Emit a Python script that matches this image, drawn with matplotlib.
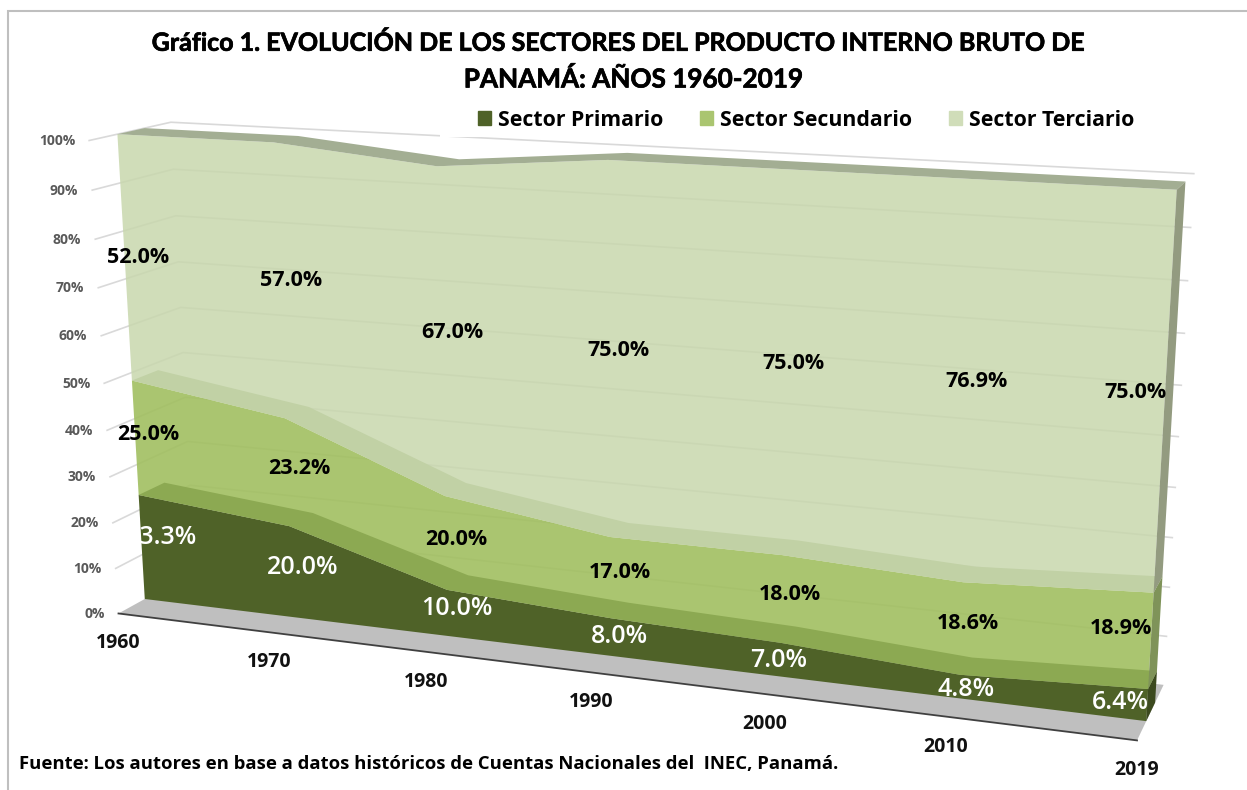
import numpy as np
import matplotlib
matplotlib.use('Agg')
import matplotlib.pyplot as plt
import matplotlib.patheffects as pe
from matplotlib.patches import Patch, Rectangle

# Datos
anios = ['1960', '1970', '1980', '1990', '2000', '2010', '2019']
primario = [23.3, 20.0, 10.0, 8.0, 7.0, 4.8, 6.4]
secundario = [25.0, 23.2, 20.0, 17.0, 18.0, 18.6, 18.9]
terciario = [52.0, 57.0, 67.0, 75.0, 75.0, 76.9, 75.0]
ticks_y = [0, 10, 20, 30, 40, 50, 60, 70, 80, 90, 100]
nombres = ['Sector Primario', 'Sector Secundario', 'Sector Terciario']

FUENTE = 'Open Sans'
plt.rcParams['font.family'] = [FUENTE, 'DejaVu Sans']

# =========================================================================
# CAMARA: esquinas de la caja 3D (t, %, profundidad) -> pixel de la figura
# =========================================================================
esquinas = [
    (0, 0, -1, 118, 612), (1, 0, -1, 1138, 740), (0, 100, -1, 91, 141),
    (0, 0, 0, 142, 599), (1, 0, 0, 1146, 722), (0, 100, 0, 116, 134), (1, 100, 0, 1176, 191),
    (0, 0, 1, 173, 586), (1, 0, 1, 1155, 703), (0, 100, 1, 145, 128), (1, 100, 1, 1186, 181),
    (0, 0, 2, 195, 572), (1, 0, 2, 1163, 684), (0, 100, 2, 170, 122), (1, 100, 2, 1194, 173),
]
A, b = [], []
for t, v, d, u, w in esquinas:
    v = v / 100
    A.append([t, v, d, 1, 0, 0, 0, 0, -u * t, -u * v, -u * d])
    A.append([0, 0, 0, 0, t, v, d, 1, -w * t, -w * v, -w * d])
    b += [u, w]
P = np.append(np.linalg.lstsq(np.array(A, float), np.array(b, float), rcond=None)[0], 1).reshape(3, 4)


def proy(i, v, d):
    # i = posicion de la categoria, v = porcentaje, d = profundidad
    i, v, d = np.broadcast_arrays(np.asarray(i, float), np.asarray(v, float), np.asarray(d, float))
    q = np.stack([i / (len(anios) - 1), v / 100, d, np.ones_like(i)])
    s = P @ q.reshape(4, -1)
    return s[0] / s[2], s[1] / s[2]


def cara(ax, xs1, ys1, xs2, ys2, color, alpha=1.0, zorder=2):
    ax.fill(np.r_[xs1, xs2[::-1]], np.r_[ys1, ys2[::-1]], color=color, alpha=alpha, lw=0, zorder=zorder)


fig = plt.figure(figsize=(12.47, 7.9), dpi=100)
ax = fig.add_axes([0, 0, 1, 1])
ax.set_xlim(0, 1247)
ax.set_ylim(790, 0)
ax.axis('off')

# Marco del grafico
ax.add_patch(Rectangle((8, 11), 1300, 900, fc='white', ec='#BFBFBF', lw=1.5, zorder=0))

idx = np.arange(len(anios))
extremos = np.array([0, len(anios) - 1])

# Piso gris y su borde
x1, y1 = proy(extremos, 0, -1)
x2, y2 = proy(extremos, 0, 2)
cara(ax, x1, y1, x2, y2, '#BFBFBF', zorder=1)
ax.plot(x1, y1, color='#404040', lw=1.3, zorder=1.1)

# Lineas de division en pared lateral y pared del fondo
for v in ticks_y[1:]:
    xa, ya = proy([0, 0], v, [-1, 2])
    xb, yb = proy(extremos, v, 2)
    ax.plot(np.r_[xa, xb[1]], np.r_[ya, yb[1]], color='#D9D9D9', lw=1.2, zorder=1.2)

# Etiquetas del eje de porcentajes
for v in ticks_y:
    x, y = proy(0, v, -1)
    ax.text(x[0] - 14, y[0] + 0.5, f'{v}%', ha='right', va='center', fontsize=10,
            fontweight='bold', color='#595959', zorder=6)

# Acumulados (las areas quedan recortadas al 100%)
tope1 = np.minimum(np.array(primario), 100)
tope2 = np.minimum(tope1 + np.array(secundario), 100)
tope3 = np.minimum(tope2 + np.array(terciario), 100)

# Caras frontales, de arriba hacia abajo
x_b, y_b = proy(idx, tope2, 0)
x_t, y_t = proy(idx, tope3, 0)
cara(ax, x_t, y_t, x_b, y_b, '#C8D7AD', alpha=0.85, zorder=2)

x_a, y_a = proy(idx, tope1, 0)
cara(ax, x_b, y_b, x_a, y_a, '#A1BF60', alpha=0.9, zorder=2.1)

x_0, y_0 = proy(idx, 0, 0)
cara(ax, x_a, y_a, x_0, y_0, '#4F6228', zorder=2.2)

# Caras superiores (la profundidad de cada area)
for tope, col in [(tope3, '#A3AE93'), (tope2, '#C1D1A5'), (tope1, '#8CA952')]:
    xf, yf = proy(idx, tope, 0)
    xd, yd = proy(idx, tope, 1)
    cara(ax, xf, yf, xd, yd, col, zorder=3)

# Cara lateral derecha
ult = len(anios) - 1
for inf, sup, col in [(0, tope1[-1], '#3C4A1F'), (tope1[-1], tope2[-1], '#7F9359'), (tope2[-1], tope3[-1], '#939B80')]:
    xf, yf = proy([ult, ult], [inf, sup], 0)
    xd, yd = proy([ult, ult], [inf, sup], 1)
    cara(ax, xf, yf, xd, yd, col, zorder=3.5)

# Etiquetas de datos, con un pequeño ajuste a ojo en pixeles
ajuste_x = [[7, 0, -1, 0, -10, 0, 0], [0] * 7, [0] * 7]
ajuste_y = [[-4, 2, 2, 6, 8, 11, 6], [1, 1, 2, 1, 2, 2, -5], [2, 2, 2, 2, 2, 2, 3]]
bases = [np.zeros(len(anios)), tope1, tope2]
series = [primario, secundario, terciario]
for s, (base, serie) in enumerate(zip(bases, series)):
    for i, val in enumerate(serie):
        x, y = proy(i, base[i] + val / 2, 0.5)
        px = x[0] + ajuste_x[s][i]
        py = y[0] + 1 + ajuste_y[s][i]
        txt = f'{val:.1f}%'
        color = 'white' if s == 0 else 'black'
        peso = 'semibold' if s == 0 else 'bold'
        tam = 18 if s == 0 else 15.5
        if i == ult:
            ax.text(px - 3, py, txt, ha='right', va='center', fontsize=tam, fontweight=peso, color=color, zorder=5)
        else:
            ax.text(px, py, txt, ha='center', va='center', fontsize=tam, fontweight=peso, color=color, zorder=5)

# Etiquetas de categorias
for i, anio in enumerate(anios):
    x, y = proy(i, 0, -1)
    ax.text(x[0], y[0] + 30, anio, ha='center', va='center', fontsize=14, fontweight='bold',
            color='#111111', zorder=6)

# Leyenda sobre fondo blanco (tapa parte de la linea del 100%)
ax.add_patch(Rectangle((440, 96), 740, 41, fc='white', ec='none', zorder=1.5))
manijas = [Patch(color=c) for c in ['#4F6228', '#AAC570', '#D0DDB9']]
ax.legend(manijas, nombres, ncol=3, frameon=False, loc='center left', bbox_to_anchor=(478, 120),
          bbox_transform=ax.transData, handlelength=0.61, handleheight=0.61, borderpad=0, borderaxespad=0,
          columnspacing=1.74, handletextpad=0.33, prop={'family': FUENTE, 'weight': 'bold', 'size': 15.3})

# Titulo y fuente
borde = [pe.withStroke(linewidth=0.5, foreground='black')]
ax.text(619, 43, 'Gráfico 1. EVOLUCIÓN DE LOS SECTORES DEL PRODUCTO INTERNO BRUTO DE',
        ha='center', va='center', fontsize=18, fontweight='bold', family='Lato', path_effects=borde, zorder=6)
ax.text(634, 79, 'PANAMÁ: AÑOS 1960-2019', ha='center', va='center', fontsize=18.8, fontweight='bold',
        family='Lato', path_effects=borde, zorder=6)
ax.text(19, 764, 'Fuente: Los autores en base a datos históricos de Cuentas Nacionales del  INEC, Panamá.',
        ha='left', va='center', fontsize=13.3, fontweight='bold', zorder=6)

fig.savefig('out.png', dpi=100)
